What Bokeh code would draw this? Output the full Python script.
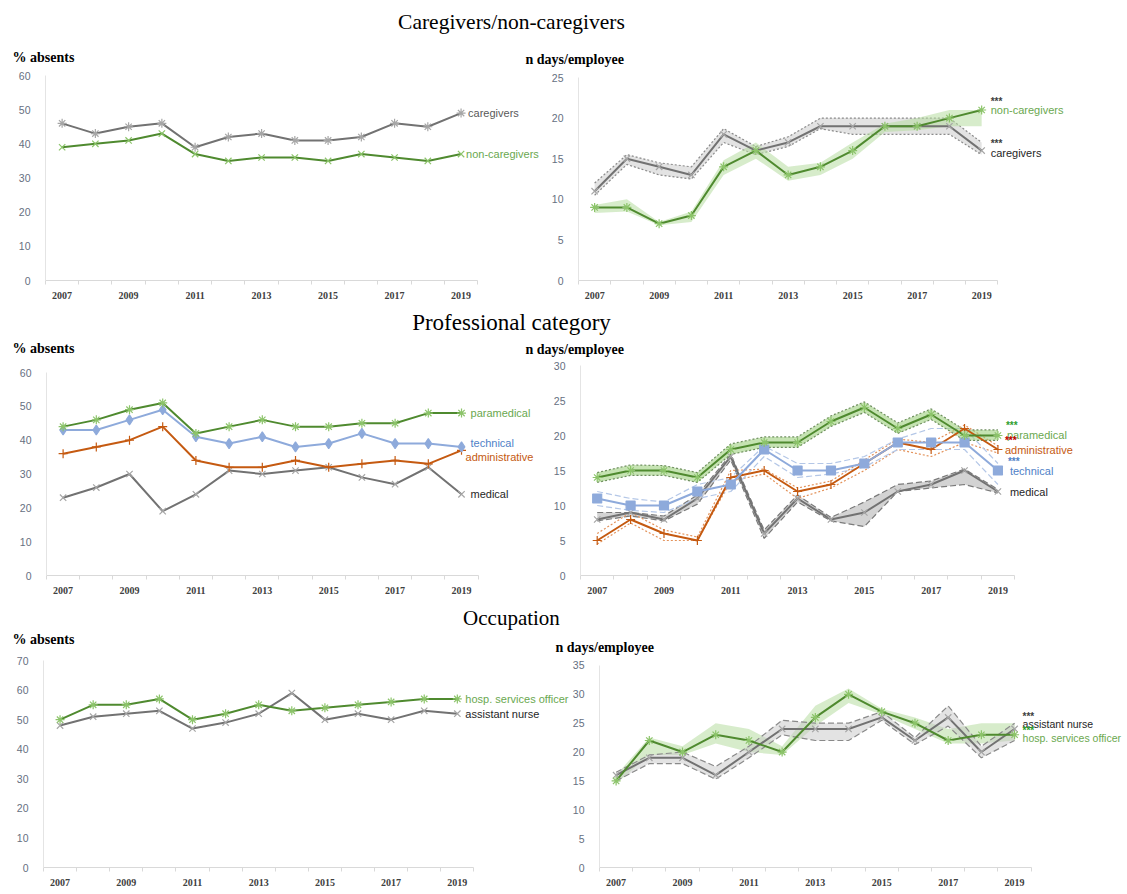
from bokeh.plotting import figure
from bokeh.layouts import column, row
from bokeh.models import Range1d, FixedTicker
from bokeh.core.properties import value
from bokeh.embed import file_html
from bokeh.resources import INLINE

# ---------------- data ----------------
years = [2007, 2008, 2009, 2010, 2011, 2012, 2013, 2014, 2015, 2016, 2017, 2018, 2019]
tick_years = [2007, 2009, 2011, 2013, 2015, 2017, 2019]

# Caregivers / non-caregivers : % absents
cg_pct = [46, 43, 45, 46, 39, 42, 43, 41, 41, 42, 46, 45, 49]
ncg_pct = [39, 40, 41, 43, 37, 35, 36, 36, 35, 37, 36, 35, 37]
# Caregivers / non-caregivers : n days/employee
cg_days = [11, 15, 14, 13, 18, 16, 17, 19, 19, 19, 19, 19, 16]
cg_days_lo = [10.5, 14.3, 13, 12.5, 17, 15.5, 16.5, 18.7, 18, 18, 18, 18, 15.5]
cg_days_hi = [12, 15.5, 14.5, 14, 18.7, 16.5, 17.7, 20, 20, 20, 20, 20, 17]
ncg_days = [9, 9, 7, 8, 14, 16, 13, 14, 16, 19, 19, 20, 21]
ncg_days_lo = [8.3, 8.5, 6.8, 7.2, 13, 15, 12.3, 13, 15, 18.3, 18.5, 19, 19]
ncg_days_hi = [9.3, 10, 7.2, 8.5, 14.8, 17, 14, 14.5, 17, 19.3, 20, 21, 21]

# Professional category : % absents
para_pct = [44, 46, 49, 51, 42, 44, 46, 44, 44, 45, 45, 48, 48]
tech_pct = [43, 43, 46, 49, 41, 39, 41, 38, 39, 42, 39, 39, 38]
admin_pct = [36, 38, 40, 44, 34, 32, 32, 34, 32, 33, 34, 33, 37]
med_pct = [23, 26, 30, 19, 24, 31, 30, 31, 32, 29, 27, 32, 24]
# Professional category : n days/employee
para_days = [14, 15, 15, 14, 18, 19, 19, 22, 24, 21, 23, 20, 20]
para_days_lo = [13.3, 14.3, 14.3, 13.3, 17.3, 18.3, 18.3, 21.3, 23.3, 20.3, 22.3, 19.3, 19.3]
para_days_hi = [14.7, 15.8, 15.7, 14.7, 18.8, 19.8, 19.8, 22.8, 24.8, 21.8, 23.8, 20.8, 20.8]
tech_days = [11, 10, 10, 12, 13, 18, 15, 15, 16, 19, 19, 19, 15]
tech_days_lo = [10, 9.3, 9, 11, 12, 17, 14, 14.5, 15.5, 18, 18, 18, 13]
tech_days_hi = [12, 11, 10.5, 13, 14, 18.5, 16, 16, 17, 19.5, 21, 21, 16]
admin_days = [5, 8, 6, 5, 14, 15, 12, 13, 16, 19, 18, 21, 18]
admin_days_lo = [4.5, 7.5, 5, 5, 13.5, 14.5, 11, 12.5, 15, 18, 17, 19, 17.5]
admin_days_hi = [6, 9, 6.5, 5.5, 15, 15.2, 12.5, 13.5, 16.5, 19.5, 19, 21.5, 18.5]
med_days = [8, 9, 8, 11, 17, 6, 11, 8, 9, 12, 13, 15, 12]
med_days_lo = [7.8, 8.5, 7.8, 10.2, 16.5, 5.3, 10.5, 7.8, 7, 12, 12.5, 13, 11.8]
med_days_hi = [9, 9, 8.5, 11.5, 17.3, 6.5, 11.5, 8.3, 10.5, 13, 13.5, 15.2, 12.3]

# Occupation : % absents
hso_pct = [50, 55, 55, 57, 50, 52, 55, 53, 54, 55, 56, 57, 57]
an_pct = [48, 51, 52, 53, 47, 49, 52, 59, 50, 52, 50, 53, 52]
# Occupation : n days/employee
hso_days = [15, 22, 20, 23, 22, 20, 26, 30, 27, 25, 22, 23, 23]
hso_days_lo = [14.5, 19.5, 19.5, 21.5, 20, 19.5, 24.5, 28.5, 26.5, 24, 21.5, 21.5, 22]
hso_days_hi = [16, 22.5, 21, 25, 24, 21, 28, 31, 27.5, 26, 24, 25, 25]
an_days = [16, 19, 19, 16, 20, 24, 24, 24, 26, 22, 26, 20, 24]
an_days_lo = [15, 18, 18, 15.3, 19, 23, 22, 22, 25.5, 21.3, 24.5, 19, 22]
an_days_hi = [16.5, 19.5, 20, 17.5, 21, 25.5, 25, 25, 27, 22.5, 28, 21, 25]

# ---------------- styles ----------------
GREEN = "#4f8a2f"
GREEN_MK = "#8cc46a"
GREEN_TXT = "#6aa84f"
GREEN_FILL = "#b7dca0"
GREY = "#727272"
GREY_MK = "#a6a6a6"
GREY_FILL = "#c8c8c8"
BLUE = "#8eaadb"
BLUE_TXT = "#4f81c7"
ORANGE = "#c55a11"
DARK = "#262626"
SANS = "Liberation Sans"
SERIF = "Liberation Serif"
boundaries = [y - 0.5 for y in years] + [years[-1] + 0.5]


def panel(width, height, b_left, b_top, b_bottom, x_end, y_max, y_end, y_step, title, title_offset,
          standoff, margin=(0, 0, 0, 0)):
    p = figure(width=width, height=height, x_range=Range1d(2006.5, x_end), y_range=Range1d(0, y_end),
               output_backend="svg", toolbar_location=None, title=title, margin=margin,
               min_border_left=b_left, min_border_right=0, min_border_top=b_top, min_border_bottom=b_bottom)
    p.outline_line_color = None
    p.background_fill_color = None
    p.border_fill_color = None
    p.xgrid.grid_line_color = None
    p.ygrid.grid_line_color = None
    p.title.align = "left"
    p.title.offset = title_offset
    p.title.standoff = standoff
    p.title.text_font = SERIF
    p.title.text_font_size = "14px"
    p.title.text_font_style = "bold"
    p.title.text_color = "black"
    xa = p.xaxis[0]
    xa.ticker = FixedTicker(ticks=tick_years, minor_ticks=boundaries)
    xa.bounds = (2006.5, 2019.5)
    xa.axis_line_color = "#d9d9d9"
    xa.major_tick_line_color = None
    xa.minor_tick_line_color = "#d9d9d9"
    xa.minor_tick_out = 4
    xa.minor_tick_in = 0
    xa.major_label_standoff = 5
    xa.major_label_text_font = SERIF
    xa.major_label_text_font_style = "bold"
    xa.major_label_text_font_size = "10px"
    xa.major_label_text_color = "#404040"
    ya = p.yaxis[0]
    ya.ticker = FixedTicker(ticks=list(range(0, y_max + 1, y_step)))
    ya.bounds = (0, y_max)
    ya.axis_line_color = "#e4e4e4"
    ya.major_tick_line_color = None
    ya.minor_tick_line_color = None
    ya.major_label_standoff = 9
    ya.major_label_text_font = SANS
    ya.major_label_text_font_size = "10.5px"
    ya.major_label_text_color = "#66707f"
    return p


def series(p, ys, color, marker, mk_color, size=9):
    p.line(years, ys, line_color=color, line_width=2)
    p.scatter(years, ys, marker=marker, size=size, line_color=mk_color, fill_color=mk_color, line_width=1.2)


def band(p, lo, hi, fill=None, alpha=0.55, edge=None, dash="3 2"):
    if fill is not None:
        p.varea(x=years, y1=lo, y2=hi, fill_color=fill, fill_alpha=alpha)
    if edge is not None:
        p.line(years, lo, line_color=edge, line_dash=dash, line_width=1.2)
        p.line(years, hi, line_color=edge, line_dash=dash, line_width=1.2)


def label(p, ys, text, color, dx, dy=0, size="11px"):
    p.text(x=[years[-1]], y=[ys[-1]], text=[text], x_offset=dx, y_offset=dy,
           text_baseline="middle", text_align="left", text_font=value(SANS),
           text_font_size=size, text_color=color)


def stars(p, ys, color, dx, dy):
    p.text(x=[years[-1]], y=[ys[-1]], text=["***"], x_offset=dx, y_offset=dy,
           text_baseline="middle", text_align="left", text_font=value(SANS),
           text_font_size="10px", text_font_style="bold", text_color=color)


def heading(text, height, ypos, size):
    p = figure(width=1125, height=height, x_range=Range1d(0, 1), y_range=Range1d(0, 1),
               output_backend="svg", toolbar_location=None, min_border=0, margin=(0, 0, 0, 0))
    p.axis.visible = False
    p.xgrid.grid_line_color = None
    p.ygrid.grid_line_color = None
    p.outline_line_color = None
    p.background_fill_color = None
    p.border_fill_color = None
    p.text(x=[0.4542], y=[ypos], text=[text], text_align="center", text_baseline="middle",
           text_font=value(SERIF), text_font_size=size, text_color="black")
    return p


# ---------------- row 1 ----------------
p1 = panel(548, 269, 45, 41, 23, 2021.63, 60, 60, 10, "% absents", -33, 21)
series(p1, cg_pct, GREY, "asterisk", GREY_MK)
series(p1, ncg_pct, GREEN, "x", GREEN_MK)
label(p1, cg_pct, "caregivers", "#595959", 7)
label(p1, ncg_pct, "non-caregivers", GREEN_TXT, 5)

p2 = panel(610, 269, 63, 41, 23, 2023.46, 25, 25.25, 5, "n days/employee", -53, 18, margin=(0, 0, 0, -33))
band(p2, cg_days_lo, cg_days_hi, fill=GREY_FILL, alpha=0.5, edge="#8a8a8a", dash="2 2")
band(p2, ncg_days_lo, ncg_days_hi, fill=GREEN_FILL, alpha=0.55)
series(p2, cg_days, GREY, "x", GREY_MK)
series(p2, ncg_days, GREEN, "asterisk", GREEN_MK)
label(p2, ncg_days, "non-caregivers", GREEN_TXT, 9, 0)
stars(p2, ncg_days, "#404040", 9, -9)
label(p2, cg_days, "caregivers", DARK, 9, 2)
stars(p2, cg_days, "#404040", 9, -7)

# ---------------- row 2 ----------------
p3 = panel(548, 275, 46, 38, 27, 2021.62, 60, 62.07, 10, "% absents", -34, 19)
series(p3, med_pct, GREY, "x", GREY_MK)
series(p3, admin_pct, ORANGE, "cross", ORANGE)
series(p3, tech_pct, BLUE, "diamond", BLUE, size=10)
series(p3, para_pct, GREEN, "asterisk", GREEN_MK)
label(p3, para_pct, "paramedical", GREEN_TXT, 9)
label(p3, tech_pct, "technical", BLUE_TXT, 9, -4)
label(p3, admin_pct, "administrative", ORANGE, 4, 7)
label(p3, med_pct, "medical", DARK, 9)

p4 = panel(610, 275, 65, 38, 27, 2022.82, 30, 30, 5, "n days/employee", -55, 17, margin=(0, 0, 0, -33))
band(p4, med_days_lo, med_days_hi, fill="#b5b5b5", alpha=0.6, edge="#7a7a7a", dash="6 3")
band(p4, admin_days_lo, admin_days_hi, edge="#e3925a", dash="2 2")
band(p4, tech_days_lo, tech_days_hi, edge="#b4c7e7", dash="6 3")
band(p4, para_days_lo, para_days_hi, fill="#9fd07f", alpha=0.6, edge="#6f8f5f", dash="2 2")
series(p4, med_days, GREY, "x", GREY_MK)
series(p4, admin_days, ORANGE, "cross", ORANGE)
series(p4, tech_days, BLUE, "square", BLUE, size=9)
series(p4, para_days, GREEN, "asterisk", GREEN_MK)
label(p4, para_days, "paramedical", GREEN_TXT, 9, -1)
stars(p4, para_days, "#2e9e2e", 8, -10)
label(p4, admin_days, "administrative", ORANGE, 7, 0)
stars(p4, admin_days, "#c00000", 7, -9)
label(p4, tech_days, "technical", BLUE_TXT, 12, 0)
stars(p4, tech_days, BLUE_TXT, 10, -9)
label(p4, med_days, "medical", DARK, 12, 0)

# ---------------- row 3 ----------------
p5 = panel(578, 274, 43, 46, 20, 2022.66, 70, 70, 10, "% absents", -31, 28)
series(p5, an_pct, GREY, "x", GREY_MK)
series(p5, hso_pct, GREEN, "asterisk", GREEN_MK)
label(p5, hso_pct, "hosp. services officer", GREEN_TXT, 8)
label(p5, an_pct, "assistant nurse", DARK, 8)

p6 = panel(585, 274, 59, 46, 20, 2022.34, 35, 35.86, 5, "n days/employee", -44, 12, margin=(0, 0, 0, -38))
band(p6, hso_days_lo, hso_days_hi, fill=GREEN_FILL, alpha=0.55)
band(p6, an_days_lo, an_days_hi, fill=GREY_FILL, alpha=0.5, edge="#8a8a8a", dash="6 3")
series(p6, an_days, GREY, "x", GREY_MK)
series(p6, hso_days, GREEN, "asterisk", GREEN_MK)
label(p6, an_days, "assistant nurse", DARK, 8, -5, size="10.5px")
stars(p6, an_days, "#404040", 8, -12)
label(p6, hso_days, "hosp. services officer", GREEN_TXT, 8, 3, size="10.5px")
stars(p6, hso_days, "#2e9e2e", 8, -4)

layout = column(
    heading("Caregivers/non-caregivers", 36, 0.389, "21.5px"),
    row(p1, p2, margin=(-2, 0, 0, 0)),
    heading("Professional category", 38, 0.5, "23px"),
    row(p3, p4, margin=(-14, 0, 0, 0)),
    heading("Occupation", 30, 0.5, "21px"),
    row(p5, p6, margin=(-18, 0, 0, 0)),
    margin=(0, 0, 0, 0),
)

open("out.html", "w").write(file_html(layout, INLINE))
